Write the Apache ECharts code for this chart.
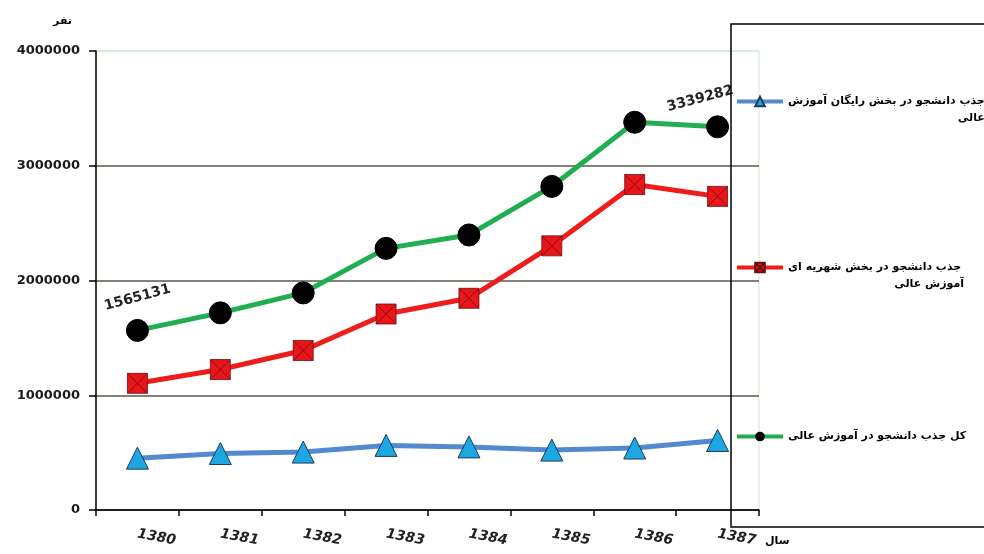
<!DOCTYPE html>
<html>
<head>
<meta charset="utf-8">
<script src="https://cdn.jsdelivr.net/npm/echarts@6/dist/echarts.min.js"></script>
<style>
  html, body { margin: 0; padding: 0; background: #fff; }
  #chart { width: 984px; height: 554px; }
</style>
</head>
<body>
<div id="chart"></div>
<script>
// سال ها
var years = ['1380', '1381', '1382', '1383', '1384', '1385', '1386', '1387'];
// جذب رایگان
var freeStudents = [452000, 492000, 505000, 563000, 550000, 522000, 540000, 606000];
// جذب شهریه ای
var paidStudents = [1104000, 1224000, 1390000, 1708000, 1845000, 2302000, 2836000, 2733000];
// کل جذب
var totalStudents = [1565131, 1718000, 1892000, 2280000, 2397000, 2820000, 3379000, 3339282];
var yTicks = [0, 1000000, 2000000, 3000000, 4000000];

var seriesNames = [
  'جذب دانشجو در بخش رایگان آموزش عالی',
  'جذب دانشجو در بخش شهریه ای آموزش عالی',
  'کل جذب دانشجو در آموزش عالی'
];

var faFont = 'DejaVu Sans';
var chart = echarts.init(document.getElementById('chart'));

// برچسب اولین و آخرین نقطه کل
function totalData() {
  return totalStudents.map(function (v, i) {
    if (i === 0 || i === totalStudents.length - 1) {
      return {
        value: v,
        label: {
          show: true,
          position: 'top',
          rotate: 15,
          distance: 14,
          offset: i === 0 ? [2, 0] : [-16, 0],
          color: '#222',
          fontFamily: faFont,
          fontStyle: 'normal',
          fontWeight: 'bold',
          fontSize: 14
        }
      };
    }
    return v;
  });
}

function legendItem(name, top) {
  return {
    data: [name],
    orient: 'vertical',
    left: 735,
    top: top,
    padding: 0,
    itemWidth: 46,
    itemHeight: 12,
    selectedMode: false,
    lineStyle: { width: 4 },
    textStyle: { fontFamily: faFont, fontWeight: 'bold', fontSize: 11, color: '#000', lineHeight: 17 }
  };
}

var legends = [
  legendItem(seriesNames[0], 76),
  legendItem(seriesNames[1], 242),
  legendItem(seriesNames[2], 428)
];
legends[0].formatter = function () {
  return '{a|جذب دانشجو در بخش رایگان آموزش}\n{r|عالی}';
};
legends[0].textStyle.padding = [17, 0, 0, 0];
legends[0].textStyle.rich = {
  a: { fontFamily: faFont, fontWeight: 'bold', fontSize: 11, lineHeight: 17 },
  r: { fontFamily: faFont, fontWeight: 'bold', fontSize: 11, lineHeight: 17, width: 195, align: 'right' }
};
legends[1].formatter = function () {
  return '{a|جذب دانشجو در بخش شهریه ای}\n{r|آموزش عالی}';
};
legends[1].textStyle.padding = [17, 0, 0, 0];
legends[1].textStyle.rich = {
  a: { fontFamily: faFont, fontWeight: 'bold', fontSize: 11, lineHeight: 17 },
  r: { fontFamily: faFont, fontWeight: 'bold', fontSize: 11, lineHeight: 17, width: 176, align: 'right' }
};

var option = {
  backgroundColor: '#fff',
  animation: false,
  grid: {
    left: 96,
    right: 225,
    top: 51,
    bottom: 44,
    show: true,
    borderColor: '#d3e9d3',
    borderWidth: 1
  },
  legend: legends,
  graphic: [
    {
      type: 'rect',
      z: 100,
      shape: { x: 731, y: 24, width: 270, height: 503 },
      style: { fill: 'none', stroke: '#000', lineWidth: 1.5 }
    }
  ],
  xAxis: {
    type: 'category',
    data: years,
    boundaryGap: true,
    name: 'سال',
    nameLocation: 'end',
    nameGap: 6,
    nameTextStyle: {
      fontFamily: faFont, fontWeight: 'bold', fontSize: 11, color: '#000',
      align: 'left', verticalAlign: 'top', padding: [26, 0, 0, 0]
    },
    axisLine: { lineStyle: { color: '#000', width: 1.5 } },
    axisTick: { show: true, length: 6, lineStyle: { color: '#000', width: 1.5 } },
    axisLabel: {
      rotate: -10,
      margin: 24,
      color: '#222',
      fontFamily: 'DejaVu Sans',
      fontStyle: 'italic',
      fontWeight: 'bold',
      fontSize: 14
    }
  },
  yAxis: {
    type: 'value',
    min: yTicks[0],
    max: yTicks[yTicks.length - 1],
    interval: 1000000,
    name: 'نفر',
    nameGap: 24,
    nameTextStyle: {
      fontFamily: faFont, fontWeight: 'bold', fontSize: 11, color: '#000',
      align: 'right', padding: [0, 24, 0, 0]
    },
    axisLine: { show: true, lineStyle: { color: '#000', width: 1.5 } },
    axisTick: { show: true, length: 7, lineStyle: { color: '#000', width: 1.5 } },
    axisLabel: {
      margin: 16,
      color: '#1a1a1a',
      fontFamily: 'DejaVu Sans',
      fontWeight: 'bold',
      fontSize: 13,
      formatter: function (v) { return String(v); }
    },
    splitLine: {
      lineStyle: { color: ['#5a5848', '#5a5848', '#5a5848', '#5a5848', '#d3e9d3'], width: 1.5 }
    }
  },
  series: [
    {
      name: seriesNames[0],
      type: 'line',
      data: freeStudents,
      symbol: 'triangle',
      symbolSize: 22,
      lineStyle: { color: '#5289cf', width: 5 },
      itemStyle: { color: '#1ca6e2', borderColor: '#203a5c', borderWidth: 1 }
    },
    {
      name: seriesNames[1],
      type: 'line',
      data: paidStudents,
      symbol: 'path://M0,0L10,0L10,10L0,10Z M0,0L10,10 M10,0L0,10',
      symbolSize: 20,
      lineStyle: { color: '#ee1c1c', width: 5 },
      itemStyle: { color: '#e8161a', borderColor: '#6a1010', borderWidth: 0.8 }
    },
    {
      name: seriesNames[2],
      type: 'line',
      data: totalData(),
      symbol: 'circle',
      symbolSize: 22,
      lineStyle: { color: '#1fae50', width: 5 },
      itemStyle: { color: '#000', borderColor: '#000' }
    }
  ]
};

chart.setOption(option);
</script>
</body>
</html>
